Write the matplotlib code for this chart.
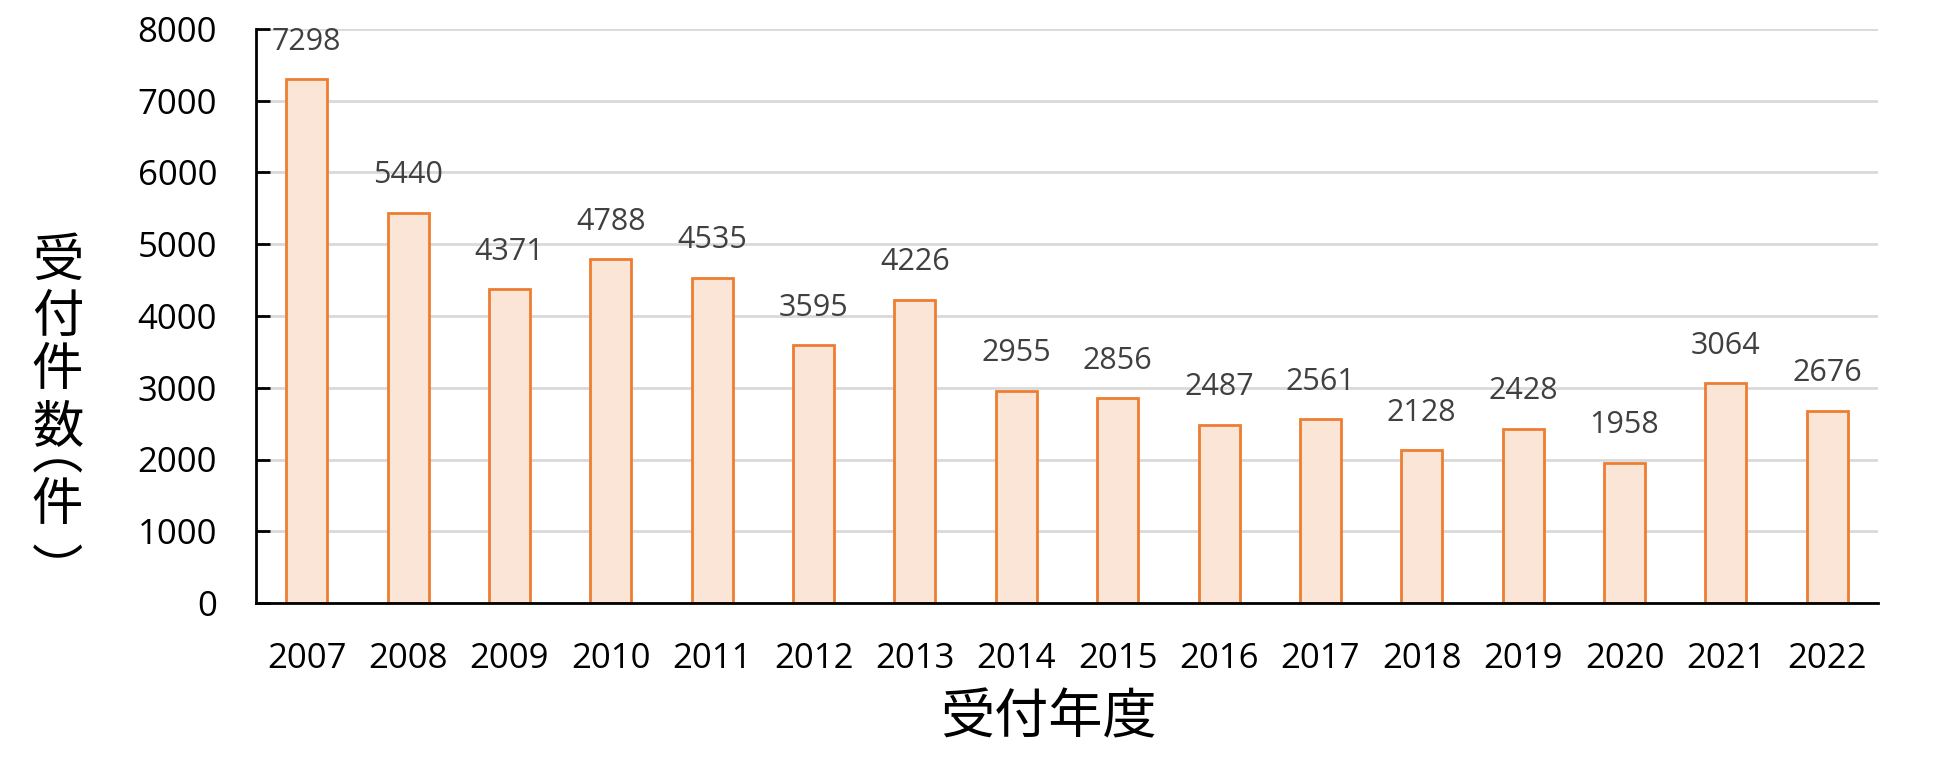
import matplotlib
matplotlib.use("Agg")
import matplotlib.pyplot as plt

plt.rcParams['font.family'] = ['Noto Sans CJK JP', 'DejaVu Sans']

# data
years = ['2007', '2008', '2009', '2010', '2011', '2012', '2013', '2014',
         '2015', '2016', '2017', '2018', '2019', '2020', '2021', '2022']
counts = [7298, 5440, 4371, 4788, 4535, 3595, 4226, 2955,
          2856, 2487, 2561, 2128, 2428, 1958, 3064, 2676]
yticks = [0, 1000, 2000, 3000, 4000, 5000, 6000, 7000, 8000]

W, H = 1950, 759
fig = plt.figure(figsize=(W/100, H/100), dpi=100)
ax = fig.add_axes([256/W, 1-603/H, (1878-256)/W, (603-29)/H])

x = range(len(years))
ax.bar(x, counts, width=0.405, color='#FBE5D6', edgecolor='#ED7D31',
       linewidth=2, zorder=3)

for i, v in enumerate(counts):
    ax.annotate(str(v), (i, v), xytext=(0, 27), textcoords='offset points',
                ha='center', va='center', fontsize=22, color='#404040',
                family=['Open Sans', 'DejaVu Sans'])

ax.set_xlim(-0.5, len(years) - 0.5)
ax.set_ylim(0, 8000)
ax.set_yticks(yticks)
ax.set_xticks(list(x))
ax.set_xticklabels(years)
for lab in ax.get_xticklabels() + ax.get_yticklabels():
    lab.set_family(['Open Sans', 'DejaVu Sans'])
ax.yaxis.grid(True, color='#D9D9D9', linewidth=2, zorder=0)
ax.set_axisbelow(True)

for s in ['top', 'right']:
    ax.spines[s].set_visible(False)
for s in ['left', 'bottom']:
    ax.spines[s].set_linewidth(2)
    ax.spines[s].set_color('black')
    ax.spines[s].set_zorder(4)

ax.tick_params(axis='y', direction='in', length=10, width=2, pad=28,
               labelsize=25)
ax.tick_params(axis='x', length=0, pad=28, labelsize=25)

# vertical y label, one character per line
ylab_chars = ['受', '付', '件', '数', '件']
ylab_pos = [261, 317, 370, 427, 505]
for ch, py in zip(ylab_chars, ylab_pos):
    fig.text(57.5/W, 1-py/H, ch, ha='center', va='center', fontsize=37)
# vertical-form brackets: the arc sits off-centre in its em box, so the
# anchor is shifted to put the ink where the reference has it
fig.text(57.5/W, 1-455/H, '︵', ha='center', va='center', fontsize=37)
fig.text(57.5/W, 1-573/H, '︶', ha='center', va='center', fontsize=37)

fig.text(1048/W, 1-718/H, '受付年度', ha='center', va='center',
         fontsize=39)

fig.savefig('out.png', dpi=100)
